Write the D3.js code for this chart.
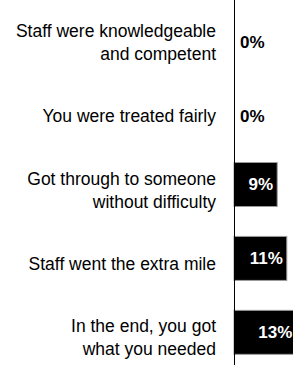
<!DOCTYPE html>
<html>
<head>
<meta charset="utf-8">
<script src="https://cdn.jsdelivr.net/npm/d3@7"></script>
<style>
  body { margin: 0; background: #fff; }
  svg { display: block; font-family: "Liberation Sans", Arial, sans-serif; }
</style>
</head>
<body>
<div id="chart"></div>
<script>
var svgWidth = 293;
var svgHeight = 365;

// data
var categories = [
    "Staff were knowledgeable and competent",
    "You were treated fairly",
    "Got through to someone without difficulty",
    "Staff went the extra mile",
    "In the end, you got what you needed"
];
var labelLines = [
    ["Staff were knowledgeable", "and competent"],
    ["You were treated fairly"],
    ["Got through to someone", "without difficulty"],
    ["Staff went the extra mile"],
    ["In the end, you got", "what you needed"]
];
var values = [0, 0, 9, 11, 13];

var rows = categories.map((c, i) => ({ cat: c, lines: labelLines[i], value: values[i] }));

var axisX = 234;

var svg = d3.select("#chart")
    .append("svg")
    .attr("width", svgWidth)
    .attr("height", svgHeight);

var yScale = d3.scaleBand()
    .domain(categories)
    .range([-8, 376])
    .paddingInner(0.405)
    .paddingOuter(0.3);

var xScale = d3.scaleLinear()
    .domain([0, 12.5])
    .range([axisX, axisX + 60]);

var mid = d => yScale(d.cat) + yScale.bandwidth() / 2;

// bars
svg.selectAll("rect.bar")
    .data(rows.filter(d => d.value > 0))
    .enter().append("rect")
    .attr("class", "bar")
    .attr("x", xScale(0))
    .attr("y", d => yScale(d.cat) + 0.5)
    .attr("width", d => xScale(d.value) - xScale(0))
    .attr("height", yScale.bandwidth())
    .attr("fill", "#000")
    .attr("stroke", "#9a9a9a")
    .attr("stroke-width", 1);

// axis line
svg.append("line")
    .attr("x1", axisX + 0.5)
    .attr("x2", axisX + 0.5)
    .attr("y1", 0)
    .attr("y2", svgHeight)
    .attr("stroke", "#000")
    .attr("stroke-width", 1);

// category labels
var labels = svg.selectAll("text.cat")
    .data(rows)
    .enter().append("text")
    .attr("class", "cat")
    .attr("text-anchor", "end")
    .attr("font-size", "17.5px")
    .attr("fill", "#000");

labels.each(function(d) {
    var lh = 23;
    var top = mid(d) + 6 - (d.lines.length - 1) * lh / 2;
    d3.select(this).selectAll("tspan")
        .data(d.lines)
        .enter().append("tspan")
        .attr("x", 216)
        .attr("y", (t, j) => top + j * lh)
        .attr("dy", "0.35em")
        .text(t => t);
});

// value labels
svg.selectAll("text.val")
    .data(rows)
    .enter().append("text")
    .attr("class", "val")
    .attr("font-size", "17px")
    .attr("font-weight", "bold")
    .attr("dy", "0.35em")
    .attr("y", d => mid(d) + (d.value > 0 ? 0 : 6))
    .attr("x", d => d.value > 0 ? xScale(d.value) - 4 : axisX + 6)
    .attr("text-anchor", d => d.value > 0 ? "end" : "start")
    .attr("fill", d => d.value > 0 ? "#fff" : "#000")
    .text(d => d.value + "%");
</script>
</body>
</html>
